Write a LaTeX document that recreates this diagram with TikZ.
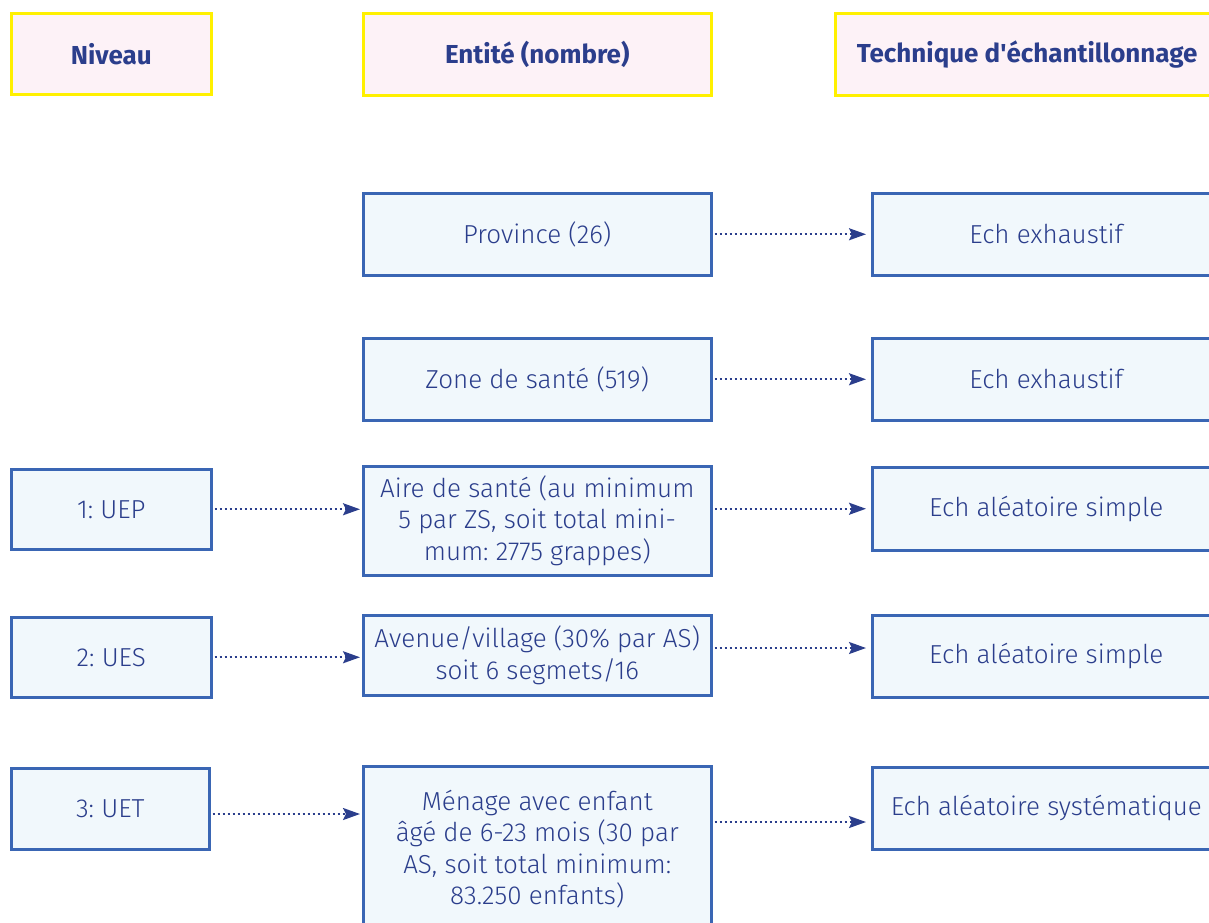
\documentclass[tikz,border=0pt]{standalone}
\usepackage{fontspec}
\setmainfont{Fira Sans}[UprightFont=* Light, BoldFont=* Bold]
\usetikzlibrary{arrows.meta}
\definecolor{txt}{HTML}{2B3E8C}
\definecolor{bord}{HTML}{3A66B4}
\definecolor{bfill}{HTML}{F1F8FC}
\definecolor{hfill}{HTML}{FDF2F7}
\definecolor{ylw}{HTML}{FFF000}
\frenchspacing
\begin{document}
\begin{tikzpicture}[x=1pt,y=-1pt,
  box/.style={draw=bord,fill=bfill,line width=2.5pt,text=txt,align=center,inner sep=0pt,
    font=\fontsize{26}{31.5}\selectfont,anchor=north west,minimum width=348pt},
  hdr/.style={draw=ylw,fill=hfill,line width=2.5pt,text=txt,inner sep=0pt,
    font=\fontsize{26}{28}\selectfont\bfseries,anchor=north west},
  arr/.style={line width=2.2pt,draw=txt,dash pattern=on 2.2pt off 2.8pt,
    -{Stealth[length=17pt,width=12pt,inset=3pt,fill=txt]}}]
\useasboundingbox (0,0) rectangle (1209,922);
% headers
\node[hdr,minimum width=200pt,minimum height=81pt] (hN) at (10,12) {Niveau};
\node[hdr,minimum width=348pt,minimum height=82pt] (hE) at (362,12) {Entité (nombre)};
\node[hdr,minimum width=384pt,minimum height=82pt] (hT) at (834,12) {Technique d\textquotesingle échantillonnage};
% middle column
\node[box,minimum height=82pt] (prov) at (362,192) {Province (26)};
\node[box,minimum height=82pt] (zone) at (362,337) {Zone de santé (519)};
\node[box,minimum height=109pt] (aire) at (362,465) {Aire de santé (au minimum\\5 par ZS, soit total mini-\\mum: 2775 grappes)};
\node[box,minimum height=80pt] (ave) at (362,614) {Avenue/village (30\% par AS)\\soit 6 segmets/16};
\node[box,minimum height=166pt] (men) at (362,765) {Ménage avec enfant\\âgé de 6-23 mois (30 par\\AS, soit total minimum:\\83.250 enfants)};
% right column
\node[box,minimum height=82pt] (t1) at (871,192) {Ech exhaustif};
\node[box,minimum height=82pt] (t2) at (871,337) {Ech exhaustif};
\node[box,minimum height=83pt] (t3) at (871,466) {Ech aléatoire simple};
\node[box,minimum height=82pt] (t4) at (871,614) {Ech aléatoire simple};
\node[box,minimum height=82pt] (t5) at (871,766) {Ech aléatoire systématique};
% left column
\node[box,minimum width=200pt,minimum height=80pt] (l1) at (10,468) {1: UEP};
\node[box,minimum width=200pt,minimum height=80pt] (l2) at (10,616) {2: UES};
\node[box,minimum width=198pt,minimum height=81pt] (l3) at (10,767) {3: UET};
% arrows
\draw[arr,shorten <=2pt,shorten >=5pt] (prov.east) -- (t1.west);
\draw[arr,shorten <=2pt,shorten >=5pt] (zone.east) -- (t2.west);
\draw[arr,shorten <=2pt,shorten >=5pt] (aire.east |- t3.west) -- (t3.west);
\draw[arr,shorten <=2pt,shorten >=5pt] (ave.east |- 0,648) -- (t4.west |- 0,648);
\draw[arr,shorten <=2pt,shorten >=5pt] (men.east |- 0,822) -- (t5.west |- 0,822);
\draw[arr,shorten <=2pt,shorten >=2pt] (l1.east) -- (aire.west |- l1.east);
\draw[arr,shorten <=2pt,shorten >=2pt] (l2.east) -- (ave.west |- l2.east);
\draw[arr,shorten <=2pt,shorten >=2pt] (l3.east |- 0,814) -- (men.west |- 0,814);
\end{tikzpicture}
\end{document}
